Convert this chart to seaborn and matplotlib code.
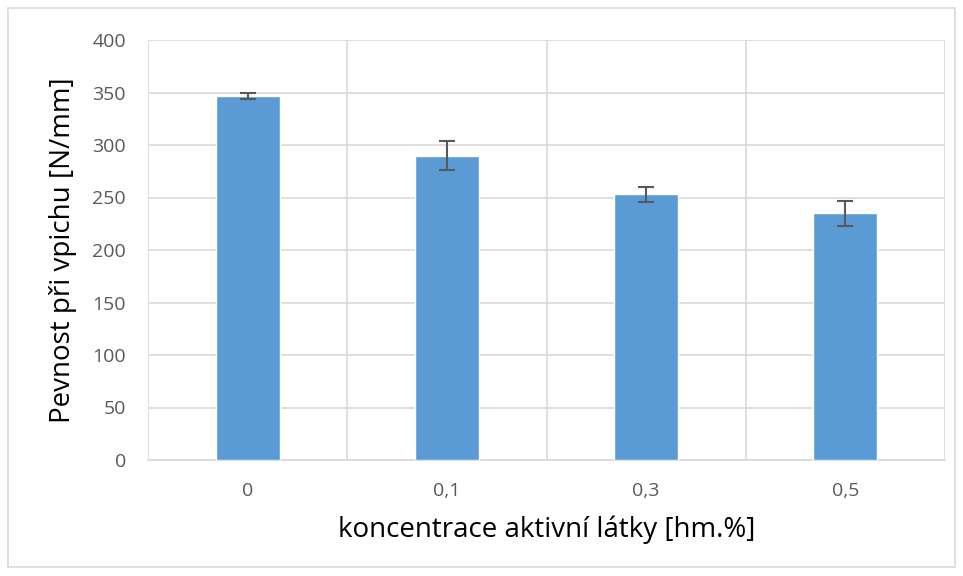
import numpy as np
import pandas as pd
import matplotlib.pyplot as plt
import seaborn as sns
from matplotlib.ticker import FixedLocator

# Data
koncentrace = ["0", "0,1", "0,3", "0,5"]
pevnost = [347, 290, 253, 235]
chyba = [3, 14, 7, 12]

df = pd.DataFrame({"koncentrace": koncentrace, "pevnost": pevnost})

sns.set_style("white")
plt.rcParams["font.family"] = ["Open Sans", "DejaVu Sans"]

fig = plt.figure(figsize=(9.63, 5.76), dpi=100)
ax = fig.add_axes([148 / 963, 1 - 460 / 576, (945 - 148) / 963, (460 - 40) / 576])

sns.barplot(data=df, x="koncentrace", y="pevnost", color="#5B9BD5",
            width=0.32, saturation=1, ax=ax, zorder=3)
ax.errorbar(np.arange(len(pevnost)), pevnost, yerr=chyba, fmt="none",
            ecolor="#595959", elinewidth=1.5, capsize=6, capthick=1.5, zorder=4)

ax.set_ylim(0, 400)
ax.set_xlim(-0.5, len(koncentrace) - 0.5)
ax.set_yticks(np.arange(0, 401, 50))
ax.xaxis.set_minor_locator(FixedLocator(np.arange(-0.5, len(koncentrace), 1.0)))
ax.grid(axis="y", which="major", color="#D9D9D9", linewidth=1.2, zorder=0)
ax.grid(axis="x", which="minor", color="#D9D9D9", linewidth=1.2, zorder=0)
ax.grid(axis="x", which="major", visible=False)
for side in ["top", "right", "left"]:
    ax.spines[side].set_visible(False)
ax.spines["bottom"].set_color("#D9D9D9")
ax.spines["bottom"].set_linewidth(1.2)
ax.tick_params(axis="both", which="both", length=0, labelsize=14,
               labelcolor="#595959")
ax.tick_params(axis="y", pad=16)
ax.tick_params(axis="x", pad=16)

ax.set_xlabel("koncentrace aktivní látky [hm.%]", fontsize=20, color="black")
ax.set_ylabel("Pevnost při vpichu [N/mm]", fontsize=20, color="black")
# place axis titles where they sit in the reference
ax.xaxis.set_label_coords(0.5, -(530 - 460) / 420, transform=ax.transAxes)
ax.xaxis.label.set_va("center")
ax.yaxis.set_label_coords(-(148 - 63) / 797, 0.5, transform=ax.transAxes)
ax.yaxis.label.set_va("center")

# outer chart border
fig.patches.append(plt.Rectangle((8 / 963, 1 - 567 / 576), 947 / 963, 559 / 576,
                                 transform=fig.transFigure, fill=False,
                                 edgecolor="#D9D9D9", linewidth=1.2))

fig.savefig("out.png", dpi=100, facecolor="white")
